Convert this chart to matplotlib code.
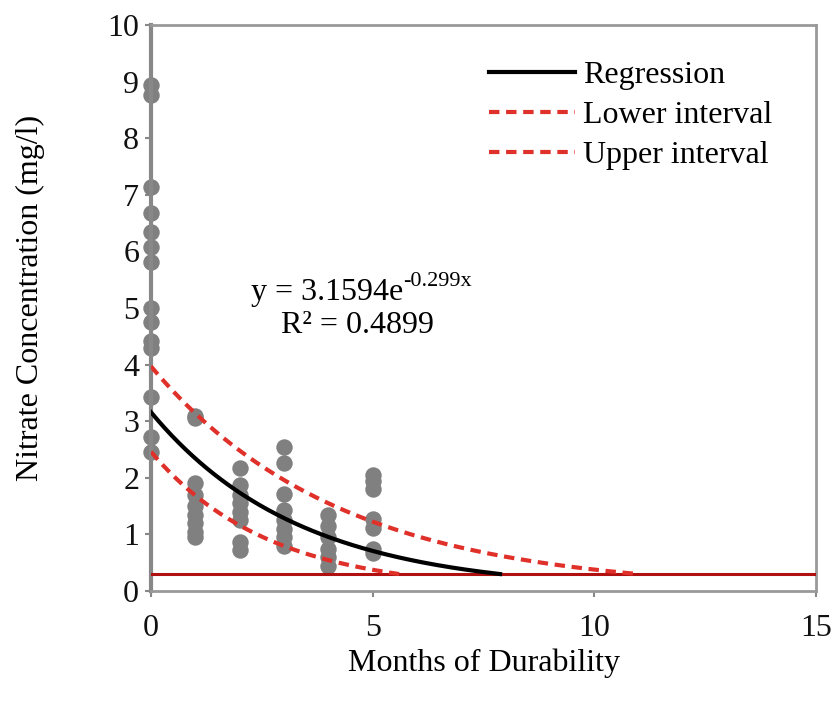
import numpy as np
import matplotlib
matplotlib.use("Agg")
import matplotlib.pyplot as plt

# Observed data (months, nitrate mg/l)
months_0 = [8.94, 8.76, 7.14, 6.68, 6.34, 6.08, 5.81, 5.0, 4.75, 4.42, 4.3, 3.43, 2.72, 2.46]
months_1 = [3.1, 3.05, 1.9, 1.7, 1.5, 1.35, 1.2, 1.05, 0.95]
months_2 = [2.17, 1.87, 1.7, 1.55, 1.4, 1.25, 0.87, 0.72]
months_3 = [2.55, 2.27, 1.72, 1.43, 1.25, 1.1, 0.95, 0.8]
months_4 = [1.35, 1.15, 0.95, 0.75, 0.6, 0.45]
months_5 = [2.05, 1.95, 1.8, 1.28, 1.12, 0.75, 0.68]
groups = [months_0, months_1, months_2, months_3, months_4, months_5]
group_x = [0, 1, 2, 3, 4, 5]

# Fitted curves: y = a * exp(b x), drawn until they meet the limit line
reg_a, reg_b = 3.1594, -0.299
low_a, low_b = 2.46, -0.376
up_a, up_b = 3.97, -0.235
limit = 0.3

plt.rcParams['font.family'] = ['Liberation Serif', 'DejaVu Serif']
FS = 23

fig = plt.figure(figsize=(8.36, 7.15), dpi=100)
ax = fig.add_axes([0.1806, 0.1734, 0.7954, 0.7916])

xs = np.concatenate([[gx] * len(g) for gx, g in zip(group_x, groups)])
ys = np.concatenate(groups)
ax.scatter(xs, ys, s=140, color='#808080', zorder=2, linewidths=0, clip_on=False)

def curve(a, b):
    xend = np.log(limit / a) / b
    x = np.linspace(0, xend, 200)
    return x, a * np.exp(b * x)

ax.axhline(limit, color='#B01010', lw=2.2, zorder=3)
x, y = curve(reg_a, reg_b)
ax.plot(x, y, color='black', lw=3, zorder=4, label='Regression')
x, y = curve(low_a, low_b)
ax.plot(x, y, color='#E0302A', lw=3, ls=(0, (2.5, 1.6)), zorder=4, label='Lower interval')
x, y = curve(up_a, up_b)
ax.plot(x, y, color='#E0302A', lw=3, ls=(0, (2.5, 1.6)), zorder=4, label='Upper interval')

ax.set_xlim(0, 15)
ax.set_ylim(0, 10)
ax.set_xticks([0, 5, 10, 15])
ax.set_yticks(range(0, 11))
for s in ax.spines.values():
    s.set_color('#999999')
    s.set_linewidth(2)
ax.spines['left'].set_color('#888888')
ax.spines['left'].set_linewidth(3)
ax.tick_params(direction='out', length=4.5, width=1.5, color='#888888',
               labelsize=FS, labelcolor='#111111', pad=4)
ax.tick_params(axis='x', pad=12)

fig.text(0.5 * (151 + 816) / 836, 1 - 663 / 715, 'Months of Durability',
         fontsize=FS, ha='center', va='center')
fig.text(30 / 836, 1 - 298 / 715, 'Nitrate Concentration (mg/l)',
         fontsize=FS, ha='center', va='center', rotation=90)

# Trend-line equation
ax.text(5.68, 5.28, 'y = 3.1594e', fontsize=FS, ha='right', va='center')
ax.text(5.68, 5.47, '-0.299x', fontsize=16, ha='left', va='center')
ax.text(4.65, 4.70, 'R² = 0.4899', fontsize=FS, ha='center', va='center')

leg = ax.legend(loc='upper left', bbox_to_anchor=(0.508, 0.937), frameon=False, fontsize=FS,
                handlelength=2.7, handletextpad=0.25, labelspacing=0.34,
                borderpad=0, borderaxespad=0)

fig.savefig('out.png', dpi=100)
